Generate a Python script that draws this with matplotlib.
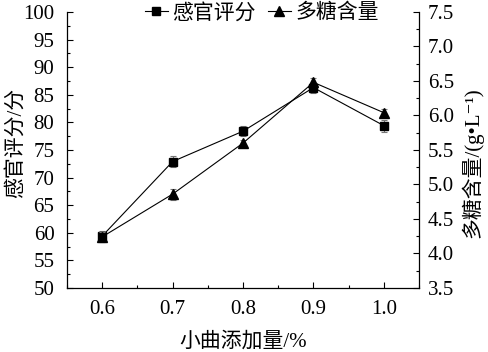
import numpy as np
import matplotlib
matplotlib.use('Agg')
from matplotlib import pyplot as plt
from matplotlib.ticker import MultipleLocator

plt.rcParams['font.family'] = ['Liberation Serif', 'Noto Sans CJK SC', 'DejaVu Sans']

dose = [0.6, 0.7, 0.8, 0.9, 1.0]
score = [59.4, 72.9, 78.4, 86.3, 79.4]
score_err = [1.0, 1.0, 0.9, 0.9, 1.1]
poly = [4.24, 4.86, 5.60, 6.48, 6.04]
poly_err = [0.07, 0.08, 0.05, 0.06, 0.06]

fig = plt.figure(figsize=(4.89, 3.52), dpi=100)
ax = fig.add_axes([0.137, 0.182, 0.72, 0.784])
ax2 = ax.twinx()

l1 = ax.errorbar(dose, score, yerr=score_err, color='black', marker='s',
                 markersize=5.5, linewidth=0.8, ecolor='#777777',
                 elinewidth=0.8, capsize=2.5, capthick=0.8)
l2 = ax2.errorbar(dose, poly, yerr=poly_err, color='black', marker='^',
                  markersize=6.5, linewidth=0.8, ecolor='#777777',
                  elinewidth=0.8, capsize=2.5, capthick=0.8)

ax.set_xlim(0.55, 1.05)
ax.set_ylim(50, 100)
ax2.set_ylim(3.5, 7.5)
ax.set_xticks(dose)
ax.set_xticklabels(['0.6', '0.7', '0.8', '0.9', '1.0'])
ax.xaxis.set_minor_locator(MultipleLocator(0.05))
ax.yaxis.set_major_locator(MultipleLocator(5))
ax.yaxis.set_minor_locator(MultipleLocator(2.5))
ax2.yaxis.set_major_locator(MultipleLocator(0.5))
ax2.yaxis.set_minor_locator(MultipleLocator(0.25))
ax2.set_yticklabels([f'{v:.1f}' for v in ax2.get_yticks()])

for a in (ax, ax2):
    a.spines['top'].set_visible(False)
    for s in a.spines.values():
        s.set_linewidth(0.9)
    a.tick_params(which='major', direction='in', length=4, width=0.8,
                  labelsize=15)
    a.tick_params(which='minor', direction='in', length=2.5, width=0.8)
ax.tick_params(axis='y', which='major', pad=9)
ax.tick_params(axis='x', which='major', pad=9)
ax2.tick_params(axis='y', which='major', pad=6.5)
ax.spines['right'].set_visible(False)
ax2.spines['left'].set_visible(False)
ax2.spines['bottom'].set_visible(False)

lab = ['Liberation Serif', 'Noto Sans CJK SC', 'DejaVu Sans']
ax.set_xlabel('小曲添加量/%', family=lab, fontsize=15)
ax.set_ylabel('感官评分/分', family=lab, fontsize=15)
ax2.set_ylabel('多糖含量/(g•L⁻¹)', family=lab, fontsize=15)
ax.xaxis.set_label_coords(0.5, -0.158)
ax.yaxis.set_label_coords(-0.118, 0.525)
ax2.yaxis.set_label_coords(1.118, 0.455)

# legend shows plain line+marker, no error bar
fig.legend([l1[0], l2[0]], ['感官评分', '多糖含量'], loc='center',
           bbox_to_anchor=(0.535, 0.962), ncol=2, frameon=False,
           prop={'family': lab, 'size': 15}, handlelength=1.1,
           handletextpad=0.2, columnspacing=0.6, borderpad=0.1)

fig.savefig('out.png', dpi=100)
